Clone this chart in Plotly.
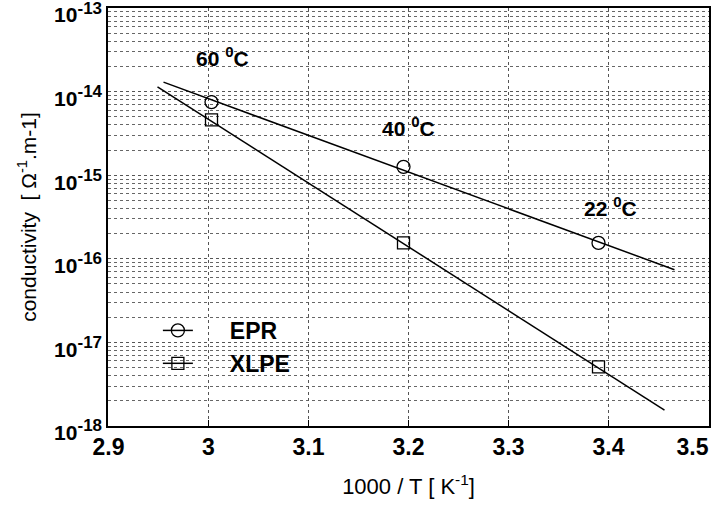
import plotly.graph_objects as go
import math

# Measured points
inv_T = [3.003, 3.195, 3.39]
epr = [7.5e-15, 1.26e-15, 1.55e-16]
xlpe = [4.6e-15, 1.55e-16, 5.1e-18]

# Fit line endpoints
epr_fit_x = [2.955, 3.466]
epr_fit_y = [1.30e-14, 7.4e-17]
xlpe_fit_x = [2.949, 3.456]
xlpe_fit_y = [1.14e-14, 1.55e-18]

temp_labels = ["60 <sup><span style='font-size:15px'>0</span></sup>C",
               "40 <sup><span style='font-size:15px'>0</span></sup>C",
               "22 <sup><span style='font-size:15px'>0</span></sup>C"]
temp_label_x = [3.014, 3.200, 3.402]
temp_label_y = [2.6e-14, 3.8e-15, 4.2e-16]

y_tickvals = [1e-18, 1e-17, 1e-16, 1e-15, 1e-14, 1e-13]
y_exps = ["-18", "-17", "-16", "-15", "-14", "-13"]
y_ticktext = ["10<sup><span style='font-size:17px'>" + e + "</span></sup>" for e in y_exps]
x_tickvals = [2.9, 3.0, 3.1, 3.2, 3.3, 3.4, 3.5]
x_ticktext = ["2.9", "3", "3.1", "3.2", "3.3", "3.4", "3.5" + "\u00a0" * 5]

NB = "\u00a0" * 5
legend_names = [NB + "EPR", NB + "XLPE"]

FONT = "Liberation Sans, Arial, sans-serif"

fig = go.Figure()
fig.add_trace(go.Scatter(x=epr_fit_x, y=epr_fit_y, mode="lines",
                         line=dict(color="black", width=1.5), showlegend=False, hoverinfo="skip"))
fig.add_trace(go.Scatter(x=xlpe_fit_x, y=xlpe_fit_y, mode="lines",
                         line=dict(color="black", width=1.5), showlegend=False, hoverinfo="skip"))
fig.add_trace(go.Scatter(x=inv_T, y=epr, mode="markers", name="EPR",
                         marker=dict(symbol="circle-open", size=13, color="black", line=dict(width=1.3)),
                         showlegend=False))
fig.add_trace(go.Scatter(x=inv_T, y=xlpe, mode="markers", name="XLPE",
                         marker=dict(symbol="square-open", size=12, color="black", line=dict(width=1.3)),
                         showlegend=False))
# legend entries (line + marker)
fig.add_trace(go.Scatter(x=[None], y=[None], mode="lines+markers", name=legend_names[0],
                         line=dict(color="black", width=1.5),
                         marker=dict(symbol="circle-open", size=13, color="black", line=dict(width=1.3))))
fig.add_trace(go.Scatter(x=[None], y=[None], mode="lines+markers", name=legend_names[1],
                         line=dict(color="black", width=1.5),
                         marker=dict(symbol="square-open", size=12, color="black", line=dict(width=1.3))))

for t, x, y in zip(temp_labels, temp_label_x, temp_label_y):
    fig.add_annotation(x=x, y=math.log10(y), xref="x", yref="y", yanchor="middle", text=t, showarrow=False,
                       font=dict(family=FONT, size=21, color="black", weight="bold"))

fig.update_xaxes(range=[2.8995, 3.5005], tickvals=x_tickvals, ticktext=x_ticktext,
                 showgrid=True, gridcolor="#555", griddash="dot", gridwidth=1,
                 ticks="inside", ticklen=6, tickcolor="black", ticklabeloverflow="allow",
                 automargin=False,
                 showline=True, linecolor="black", linewidth=1.5, mirror=True,
                 tickfont=dict(family=FONT, size=23, color="black", weight="bold"),
                 title=dict(text="1000 / T [ K<sup>-1</sup>]", font=dict(family=FONT, size=22, color="black"),
                            standoff=19),
                 zeroline=False)
fig.update_yaxes(type="log", range=[-18.001, -12.999], tickvals=y_tickvals, ticktext=y_ticktext,
                 showgrid=True, gridcolor="#555", griddash="dot", gridwidth=1,
                 minor=dict(showgrid=True, gridcolor="#666", griddash="dot", gridwidth=1,
                            ticks="", dtick="D1"),
                 ticks="", showline=True, linecolor="black", linewidth=1.5, mirror=True,
                 ticklabeloverflow="allow", ticklabelshift=7, automargin=False,
                 tickfont=dict(family=FONT, size=21, color="black", weight="bold"),
                 title=dict(text="conductivity  [ Ω<sup>-1</sup>.m-1]", font=dict(family=FONT, size=21, color="black"),
                            standoff=12),
                 zeroline=False)

fig.update_layout(width=712, height=507, margin=dict(l=108, r=3, t=8, b=81, autoexpand=False),
                  plot_bgcolor="white", paper_bgcolor="white",
                  legend=dict(x=0.083, y=0.28, xanchor="left", yanchor="top",
                              bgcolor="rgba(0,0,0,0)", tracegroupgap=0,
                              font=dict(family=FONT, size=23, color="black", weight="bold")))

fig.write_html("out.html")
